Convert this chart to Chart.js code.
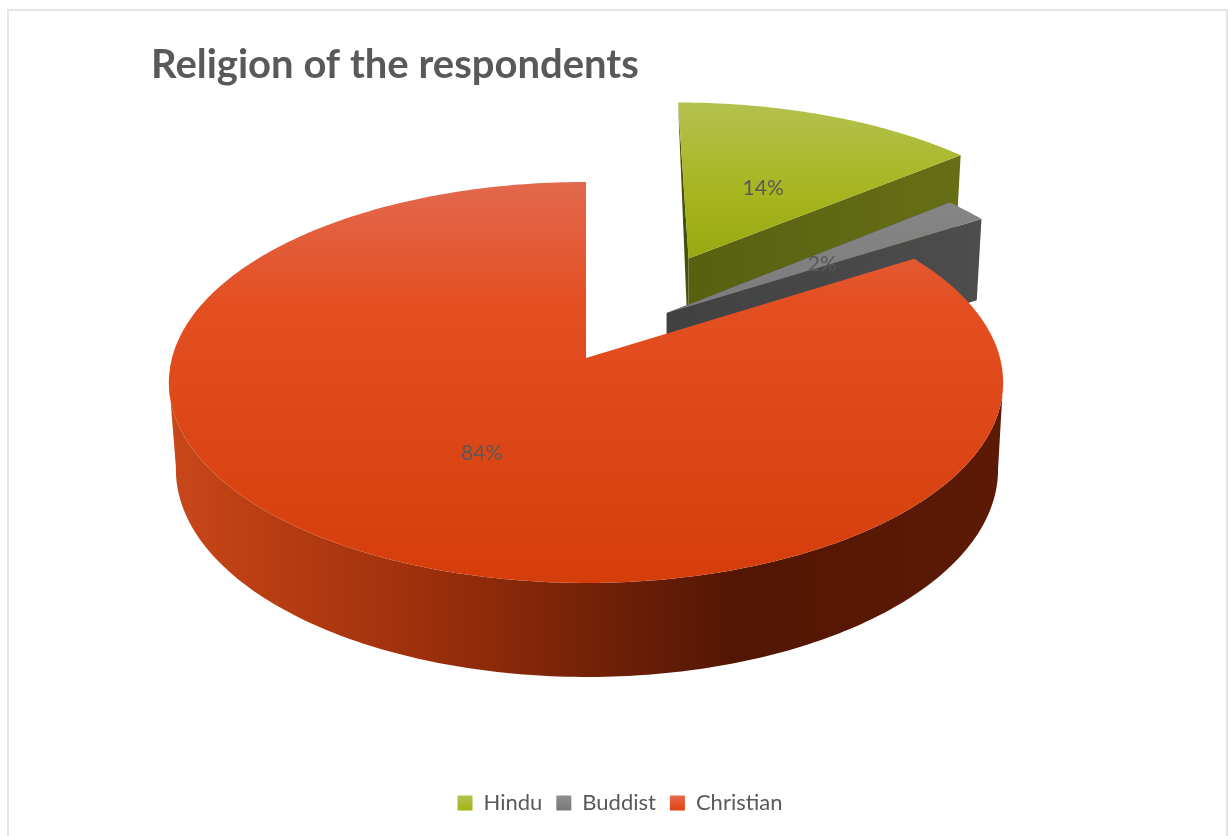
<!DOCTYPE html>
<html>
<head>
<meta charset="utf-8">
<title>Religion of the respondents</title>
<style>
  html, body { margin: 0; padding: 0; background: #fff; overflow: hidden; }
  #frame { position: absolute; left: 7px; top: 9px; width: 1217px; height: 840px;
           border: 2px solid #e4e4e4; }
  #pie { position: absolute; left: 0; top: 0; }
</style>
<script src="https://cdn.jsdelivr.net/npm/chart.js@4"></script>
</head>
<body>
<div id="frame"></div>
<canvas id="pie" width="1228" height="836"></canvas>
<script>
const categories = ["Hindu", "Buddist", "Christian"];
const shares = [14, 2, 84];
const chartTitle = "Religion of the respondents";

// how far each slice is pulled out, in pie radii
const EXPLODE = [0.43, 0.148, 0.168];
const TEXT_COLOR = "#595959";

// colours per slice: top face (y stops), cut faces and rim
const TOP_STOPS = [
  [[0, "#b3c14f"], [0.6, "#a6b51d"], [1, "#98a812"]],
  [[0, "#8a8a8a"], [1, "#7c7c7c"]],
  [[0, "#e2694e"], [0.3, "#e44f22"], [1, "#d53e0b"]],
];
const LEGEND_STOPS = [
  ["#b3c14f", "#a3b20f"],
  ["#8e8e8e", "#767676"],
  ["#e7694a", "#e03f0c"],
];
const WALL_COLORS = [
  ["#47500a", "#566010", "#676f15"],
  ["#414141", "#414141", "#4d4d4d"],
];
const RED_RIM_STOPS = [
  [0, "#c8481a"], [0.1, "#bb3f13"], [0.3, "#9e300c"], [0.5, "#752208"],
  [0.68, "#531604"], [1, "#5c1a06"],
];

// perspective of the pie plane, measured from the tip of the largest slice
const VIEW = { x: 586, y: 358, scaleX: 414, scaleY: 197.5, tilt: 0.122 };
// lower face of the pie relative to the upper face
const DEPTH = { back: 80, extra: 14, backY: 182, spanY: 401, pivotX: 654, squeeze: 0.0144 };
// the disc is widest this far below the tip
const WIDEST_BELOW_TIP = 22;

const project = (u, v) => {
  const d = 1 - VIEW.tilt * v;
  return { x: VIEW.x + (VIEW.scaleX * u) / d, y: VIEW.y + (VIEW.scaleY * v) / d };
};
const lower = (p) => ({
  x: p.x + (DEPTH.pivotX - p.x) * DEPTH.squeeze,
  y: p.y + DEPTH.back + (DEPTH.extra * (p.y - DEPTH.backY)) / DEPTH.spanY,
});

const midAngle = (arc) => (arc.startAngle + arc.endAngle) / 2;

// slice tip in plane units, with the last slice kept at the origin
const sliceTip = (arcs, i) => {
  const last = arcs.length - 1;
  const m = midAngle(arcs[i]);
  const r = midAngle(arcs[last]);
  return {
    u: EXPLODE[i] * Math.cos(m) - EXPLODE[last] * Math.cos(r),
    v: EXPLODE[i] * Math.sin(m) - EXPLODE[last] * Math.sin(r),
  };
};

const rimPoints = (tip, arc) => {
  const pts = [];
  const steps = Math.ceil((arc.endAngle - arc.startAngle) * 60);
  for (let s = 0; s <= steps; s++) {
    const a = arc.startAngle + ((arc.endAngle - arc.startAngle) * s) / steps;
    pts.push(project(tip.u + Math.cos(a), tip.v + Math.sin(a)));
  }
  return pts;
};

const fillPath = (ctx, pts, style) => {
  ctx.beginPath();
  pts.forEach((p, i) => (i ? ctx.lineTo(p.x, p.y) : ctx.moveTo(p.x, p.y)));
  ctx.closePath();
  ctx.fillStyle = style;
  ctx.fill();
};

const hGradient = (ctx, x0, x1, stops) => {
  const g = ctx.createLinearGradient(x0, 0, x1, 0);
  stops.forEach(([o, c]) => g.addColorStop(o, c));
  return g;
};

const drawSlice = (ctx, arcs, i) => {
  const arc = arcs[i];
  const isFront = i === arcs.length - 1;
  const tip = sliceTip(arcs, i);
  const tipTop = project(tip.u, tip.v);
  const tipLow = lower(tipTop);
  const rim = rimPoints(tip, arc);
  const first = rim[0];
  const last = rim[rim.length - 1];

  if (isFront) {
    // only the front half of the largest slice shows its outer rim
    const front = rim.filter((p) => p.y > tipTop.y + WIDEST_BELOW_TIP);
    const xs = front.map((p) => p.x);
    fillPath(
      ctx,
      front.concat(front.map(lower).reverse()),
      hGradient(ctx, Math.min(...xs), Math.max(...xs), RED_RIM_STOPS)
    );
  } else {
    // the pulled out slices show their cut faces instead
    fillPath(ctx, [tipTop, first, tipLow], WALL_COLORS[i][0]);
    fillPath(
      ctx,
      [tipTop, last, lower(last), tipLow],
      hGradient(ctx, tipTop.x, last.x, [[0, WALL_COLORS[i][1]], [1, WALL_COLORS[i][2]]])
    );
  }

  // top face, shaded over the height of its full disc
  const discTop = project(tip.u, tip.v - 1).y;
  const discBottom = project(tip.u, tip.v + 1).y;
  const g = ctx.createLinearGradient(0, discTop, 0, isFront ? discBottom : tipTop.y);
  TOP_STOPS[i].forEach(([o, c]) => g.addColorStop(o, c));
  fillPath(ctx, [tipTop].concat(rim), g);
};

// the pie is drawn tilted, from the angles the arc elements were given
const tiltedPie = {
  id: "tiltedPie",
  beforeDatasetDraw(chart, args) {
    const ctx = chart.ctx;
    const arcs = args.meta.data;
    ctx.save();
    arcs.forEach((_, i) => drawSlice(ctx, arcs, i));
    ctx.font = "21px Lato";
    ctx.fillStyle = TEXT_COLOR;
    ctx.textAlign = "center";
    ctx.textBaseline = "middle";
    arcs.forEach((arc, i) => {
      const tip = sliceTip(arcs, i);
      const m = midAngle(arc);
      const p = project(tip.u + 0.5 * Math.cos(m), tip.v + 0.5 * Math.sin(m));
      ctx.fillText(shares[i] + "%", p.x + 1, p.y + 4);
    });
    ctx.restore();
    return false;
  },
};

const canvas = document.getElementById("pie");
// no "ti" ligature in the legend text
canvas.getContext("2d").textRendering = "optimizeSpeed";

const legendSwatch = (i) => {
  const g = canvas.getContext("2d").createLinearGradient(0, 796, 0, 811);
  g.addColorStop(0, LEGEND_STOPS[i][0]);
  g.addColorStop(1, LEGEND_STOPS[i][1]);
  return g;
};

new Chart(canvas, {
  type: "pie",
  data: {
    labels: categories,
    datasets: [{ data: shares, backgroundColor: LEGEND_STOPS.map((s) => s[0]), borderWidth: 0 }],
  },
  plugins: [tiltedPie],
  options: {
    responsive: false,
    animation: false,
    layout: { padding: { left: 151, right: 139, top: 41, bottom: 12 } },
    plugins: {
      tooltip: { enabled: false },
      title: {
        display: true,
        text: chartTitle,
        align: "start",
        color: TEXT_COLOR,
        font: { family: "Lato", size: 40, weight: "bold" },
        padding: 0,
      },
      legend: {
        position: "bottom",
        labels: {
          boxWidth: 15,
          boxHeight: 15,
          padding: 14,
          color: TEXT_COLOR,
          font: { family: "Lato", size: 22 },
          generateLabels: () =>
            categories.map((text, i) => ({
              text,
              index: i,
              fillStyle: legendSwatch(i),
              strokeStyle: "transparent",
              lineWidth: 0,
              fontColor: TEXT_COLOR,
            })),
        },
      },
    },
  },
});
</script>
</body>
</html>
